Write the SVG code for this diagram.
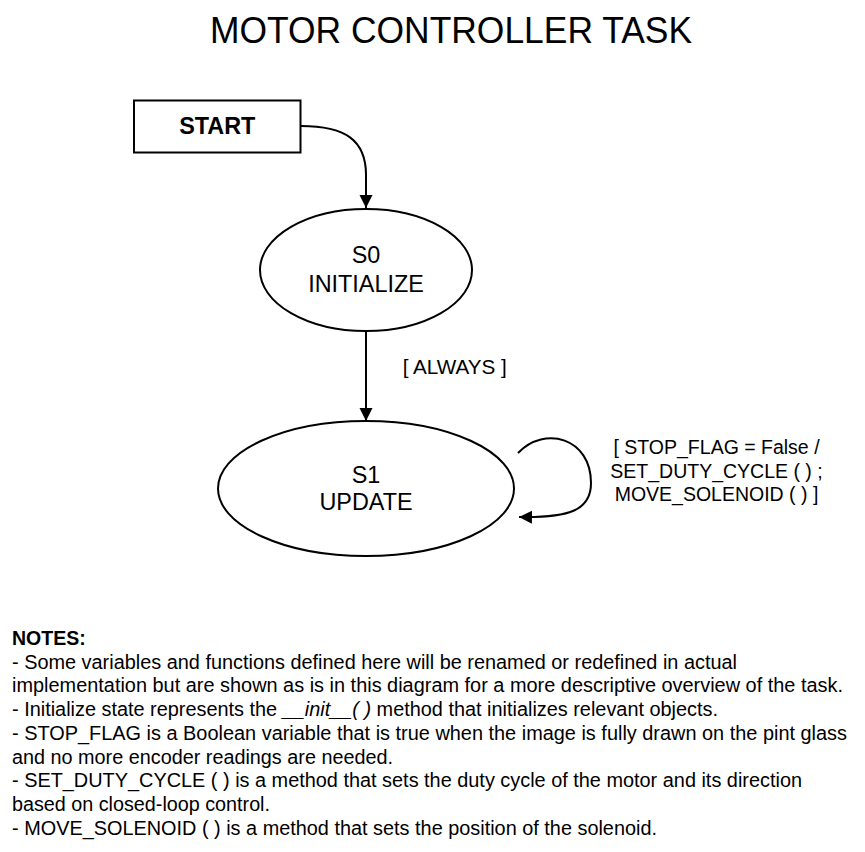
<svg xmlns="http://www.w3.org/2000/svg" width="865" height="852" viewBox="0 0 865 852">
<defs>
<style>
.t{font-family:"Liberation Sans",Arial,sans-serif;fill:#000}
.state{fill:#fff;stroke:#000;stroke-width:2}
.edge{fill:none;stroke:#000;stroke-width:2}
.note{font-size:19.5px}
.lbl{font-size:19.5px}
.st{font-size:23.4px}
</style>
<marker id="ah" markerUnits="userSpaceOnUse" markerWidth="14" markerHeight="14" refX="13" refY="6.5" orient="auto" viewBox="0 0 14 13">
<path d="M0,0 L13,6.5 L0,13 z" fill="#000"/>
</marker>
</defs>
<rect width="865" height="852" fill="#fff"/>
<text class="t" x="451" y="42.7" font-size="36" text-anchor="middle" textLength="482" lengthAdjust="spacingAndGlyphs">MOTOR CONTROLLER TASK</text>

<g id="connectors">
<path class="edge" d="M301,126 C345,126 366,140 366,175 L366,208" marker-end="url(#ah)"/>
<path class="edge" d="M366,331 L366,421" marker-end="url(#ah)"/>
<path class="edge" d="M518,453 C545,425 591,438 591,483 C591,510 570,518 519,517" marker-end="url(#ah)"/>
<text class="t lbl" x="402.7" y="374" textLength="104" lengthAdjust="spacingAndGlyphs">[ ALWAYS ]</text>
<text class="t lbl" x="716.5" y="454" text-anchor="middle">[ STOP_FLAG = False /</text>
<text class="t lbl" x="716.5" y="477.5" text-anchor="middle">SET_DUTY_CYCLE ( ) ;</text>
<text class="t lbl" x="716.5" y="501" text-anchor="middle">MOVE_SOLENOID ( ) ]</text>
</g>

<g id="start">
<rect x="134" y="100.5" width="166.5" height="52" fill="#fff" stroke="#000" stroke-width="2"/>
<text class="t" x="217.3" y="134.3" font-size="23.4" font-weight="bold" text-anchor="middle">START</text>
</g>

<g id="s0">
<ellipse class="state" cx="366" cy="270" rx="106" ry="61"/>
<text class="t st" x="366" y="263.3" text-anchor="middle">S0</text>
<text class="t st" x="366" y="292" text-anchor="middle">INITIALIZE</text>
</g>

<g id="s1">
<ellipse class="state" cx="366" cy="488.5" rx="148" ry="67.5"/>
<text class="t st" x="366" y="482.7" text-anchor="middle">S1</text>
<text class="t st" x="366" y="510" text-anchor="middle">UPDATE</text>
</g>

<g id="notes">
<text class="t note" x="12" y="645" font-weight="bold">NOTES:</text>
<text class="t note" x="12" y="668.5" textLength="725" lengthAdjust="spacingAndGlyphs">- Some variables and functions defined here will be renamed or redefined in actual</text>
<text class="t note" x="12" y="692.2" textLength="831" lengthAdjust="spacingAndGlyphs">implementation but are shown as is in this diagram for a more descriptive overview of the task.</text>
<text class="t note" x="12" y="716" textLength="706" lengthAdjust="spacingAndGlyphs">- Initialize state represents the <tspan font-style="italic">__init__( )</tspan> method that initializes relevant objects.</text>
<text class="t note" x="12" y="739.7" textLength="835" lengthAdjust="spacingAndGlyphs">- STOP_FLAG is a Boolean variable that is true when the image is fully drawn on the pint glass</text>
<text class="t note" x="12" y="763.5" textLength="381" lengthAdjust="spacingAndGlyphs">and no more encoder readings are needed.</text>
<text class="t note" x="12" y="787.3" textLength="790" lengthAdjust="spacingAndGlyphs">- SET_DUTY_CYCLE ( ) is a method that sets the duty cycle of the motor and its direction</text>
<text class="t note" x="12" y="811.1" textLength="258" lengthAdjust="spacingAndGlyphs">based on closed-loop control.</text>
<text class="t note" x="12" y="835" textLength="645" lengthAdjust="spacingAndGlyphs">- MOVE_SOLENOID ( ) is a method that sets the position of the solenoid.</text>
</g>
</svg>
